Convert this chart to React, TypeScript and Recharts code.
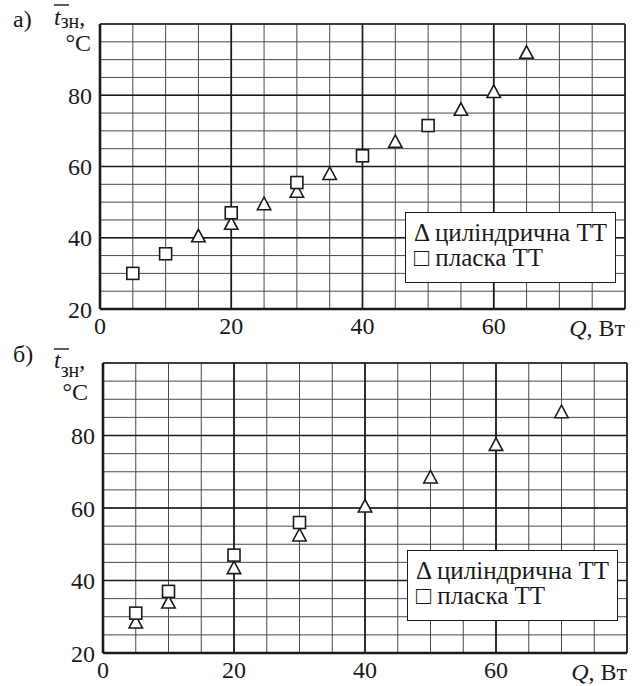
import React from 'react';
import {
  ScatterChart,
  Scatter,
  XAxis,
  YAxis,
  CartesianGrid,
  ReferenceLine,
  Legend,
} from 'recharts';

// ---------- data ----------
// chart а)
const cylQ_a = [15, 20, 25, 30, 35, 45, 55, 60, 65];
const cylT_a = [40.5, 44, 49.5, 53, 58, 67, 76, 81, 92];
const flatQ_a = [5, 10, 20, 30, 40, 50];
const flatT_a = [30, 35.5, 47, 55.5, 63, 71.5];

// chart б)
const cylQ_b = [5, 10, 20, 30, 40, 50, 60, 70];
const cylT_b = [28.5, 34, 43.5, 52.5, 60.5, 68.5, 77.5, 86.5];
const flatQ_b = [5, 10, 20, 30];
const flatT_b = [31, 37, 47, 56];

// axes
const xGridTicks = [0, 5, 10, 15, 20, 25, 30, 35, 40, 45, 50, 55, 60, 65, 70, 75, 80];
const yGridTicks = [20, 25, 30, 35, 40, 45, 50, 55, 60, 65, 70, 75, 80, 85, 90, 95, 100];
const xLabelTicks = [0, 20, 40, 60];
const yLabelTicks = [20, 40, 60, 80];
const xMajor = [20, 40, 60];
const yMajor = [40, 60, 80];
const xDomain = [0, 80];
const yDomain = [20, 100];

const seriesCyl = 'циліндрична ТТ';
const seriesFlat = 'пласка ТТ';
const legendSymbols: Record<string, string> = {
  [seriesCyl]: 'Δ',
  [seriesFlat]: '□',
};
const legendOrder = [seriesCyl, seriesFlat];

const FONT = "'Liberation Serif', Tinos, 'Times New Roman', Times, 'DejaVu Serif', serif";
const INK = '#1a1a1a';

const zip = (qs: number[], ts: number[]) => qs.map((q, i) => ({ q, t: ts[i] }));

const Triangle = (props: any) => {
  const { cx, cy } = props;
  if (cx == null || cy == null) return null;
  const w = 6.7;
  return (
    <path
      d={`M${cx},${cy - 6.7} L${cx + w},${cy + 5.8} L${cx - w},${cy + 5.8} Z`}
      fill="#fff"
      stroke={INK}
      strokeWidth={1.6}
      strokeLinejoin="miter"
    />
  );
};

const Square = (props: any) => {
  const { cx, cy } = props;
  if (cx == null || cy == null) return null;
  return (
    <rect x={cx - 6} y={cy - 6} width={12} height={12} fill="#fff" stroke={INK} strokeWidth={1.6} />
  );
};

const LegendBox = () => {
  return (
    <div
      style={{
        boxSizing: 'border-box',
        width: 211,
        height: 71,
        border: `1.5px solid ${INK}`,
        background: '#fff',
        paddingLeft: 8,
        paddingTop: 7,
        fontFamily: FONT,
        fontSize: 25,
        lineHeight: '25px',
        color: INK,
        whiteSpace: 'nowrap',
        textAlign: 'left',
      }}
    >
      {legendOrder.map((name) => (
        <div key={name}>
          {legendSymbols[name]} {name}
        </div>
      ))}
    </div>
  );
};

type TitleLayout = {
  letterY: number;
  tY: number;
  subDy: number;
  barY: number;
  unitY: number;
  unitRight: number;
};

type PanelProps = {
  letter: string;
  height: number;
  xAxisHeight: number;
  cyl: { q: number; t: number }[];
  flat: { q: number; t: number }[];
  margin: { top: number; right: number; left: number; bottom: number };
  legendPos: { left: number; top: number };
  title: TitleLayout;
};

const Panel = ({ letter, height, xAxisHeight, cyl, flat, margin, legendPos, title }: PanelProps) => {
  const plotRight = 642 - margin.right;
  const plotBottom = height - margin.bottom - xAxisHeight;
  return (
    <ScatterChart width={642} height={height} margin={margin} style={{ display: 'block' }}>
      <CartesianGrid stroke="#4a4a4a" strokeWidth={1} />
      <XAxis
        type="number"
        dataKey="q"
        domain={xDomain}
        ticks={xGridTicks}
        interval={0}
        height={xAxisHeight}
        tickLine={false}
        axisLine={{ stroke: INK, strokeWidth: 2.6 }}
        tickFormatter={(v: number) => (xLabelTicks.includes(v) ? String(v) : '')}
        tick={{ fill: INK, fontSize: 24, fontFamily: FONT }}
        allowDataOverflow
      />
      <YAxis
        type="number"
        dataKey="t"
        domain={yDomain}
        ticks={yGridTicks}
        interval={0}
        width={50}
        tickLine={false}
        axisLine={{ stroke: INK, strokeWidth: 2.6 }}
        tickFormatter={(v: number) => (yLabelTicks.includes(v) ? String(v) : '')}
        tick={{ fill: INK, fontSize: 24, fontFamily: FONT }}
        allowDataOverflow
      />
      {xMajor.map((v) => (
        <ReferenceLine key={'x' + v} x={v} stroke={INK} strokeWidth={1.7} />
      ))}
      {yMajor.map((v) => (
        <ReferenceLine key={'y' + v} y={v} stroke={INK} strokeWidth={1.7} />
      ))}
      <ReferenceLine x={xDomain[1]} stroke={INK} strokeWidth={1.6} />
      <ReferenceLine y={yDomain[1]} stroke={INK} strokeWidth={1.6} />
      <Scatter name={seriesCyl} data={cyl} shape={<Triangle />} isAnimationActive={false} />
      <Scatter name={seriesFlat} data={flat} shape={<Square />} isAnimationActive={false} />
      <Legend
        layout="vertical"
        align="center"
        verticalAlign="middle"
        content={<LegendBox />}
        wrapperStyle={{ left: legendPos.left, top: legendPos.top, width: 211, height: 71 }}
      />
      {/* panel letter */}
      <text x={13} y={title.letterY} fontFamily={FONT} fontSize={24} fill={INK}>
        {letter}
      </text>
      {/* y-axis title: t̄зн, °C */}
      <line x1={54} x2={69} y1={title.barY} y2={title.barY} stroke={INK} strokeWidth={1.4} />
      <text x={54} y={title.tY} fontFamily={FONT} fontSize={24} fill={INK}>
        <tspan fontStyle="italic">t</tspan>
        <tspan fontSize={20} dy={title.subDy}>зн</tspan>
        <tspan dy={-title.subDy}>,</tspan>
      </text>
      <text x={title.unitRight} y={title.unitY} fontFamily={FONT} fontSize={24} fill={INK} textAnchor="end">
        °C
      </text>
      {/* x-axis title */}
      <text
        x={plotRight}
        y={plotBottom + 27}
        fontFamily={FONT}
        fontSize={24}
        fill={INK}
        textAnchor="end"
      >
        <tspan fontStyle="italic">Q</tspan>
        <tspan>, Вт</tspan>
      </text>
    </ScatterChart>
  );
};

export default function App() {
  return (
    <div style={{ position: 'absolute', left: 0, top: 0, width: 642, height: 686, background: '#fff' }}>
      <Panel
        letter="а)"
        height={341}
        xAxisHeight={30}
        cyl={zip(cylQ_a, cylT_a)}
        flat={zip(flatQ_a, flatT_a)}
        margin={{ top: 24, right: 17, left: 50, bottom: 2 }}
        legendPos={{ left: 405, top: 212 }}
        title={{ letterY: 27, tY: 25, subDy: 3, barY: 5, unitY: 51, unitRight: 91 }}
      />
      <Panel
        letter="б)"
        height={345}
        xAxisHeight={30}
        cyl={zip(cylQ_b, cylT_b)}
        flat={zip(flatQ_b, flatT_b)}
        margin={{ top: 22, right: 15, left: 53, bottom: 3 }}
        legendPos={{ left: 407, top: 209 }}
        title={{ letterY: 21, tY: 27, subDy: 9, barY: 8, unitY: 59, unitRight: 88 }}
      />
    </div>
  );
}
